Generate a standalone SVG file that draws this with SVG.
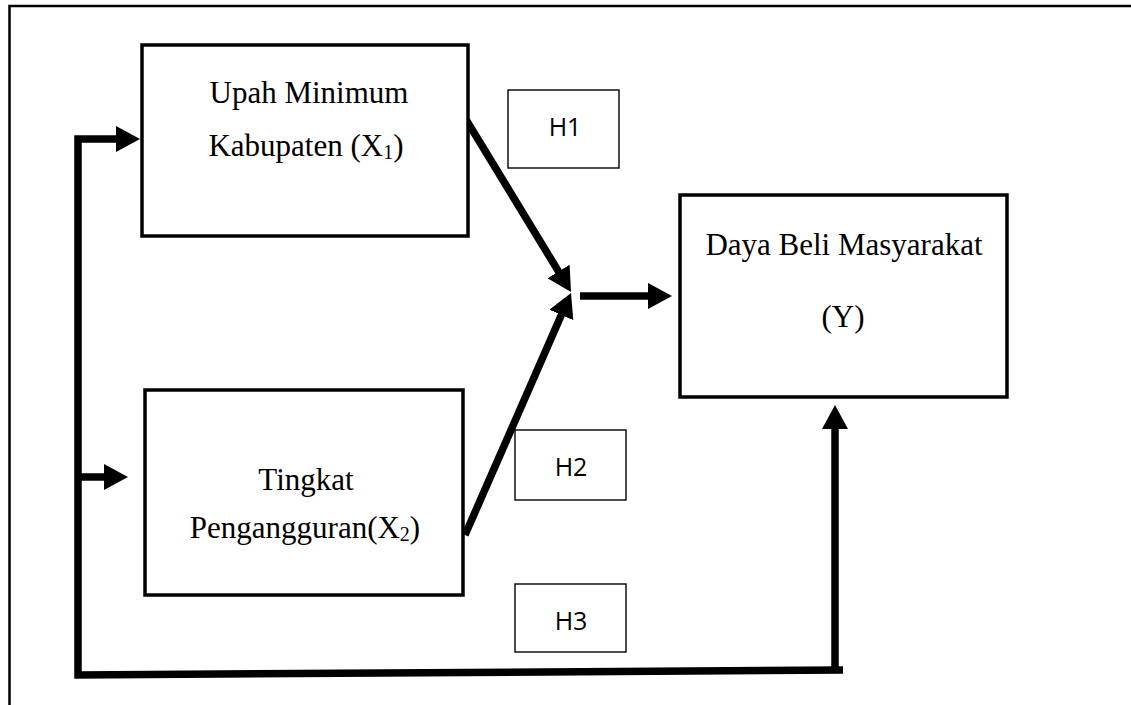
<svg xmlns="http://www.w3.org/2000/svg" width="1131" height="705" viewBox="0 0 1131 705">
<style>
  .box { fill: #fff; stroke: #000; stroke-width: 3.5; }
  .hbox { fill: #fff; stroke: #000; stroke-width: 1.4; }
  .serif { font-family: "Liberation Serif", "Times New Roman", serif; font-size: 31px; fill: #000; text-anchor: middle; }
  .sans { font-family: "Open Sans", "Liberation Sans", sans-serif; font-size: 25px; fill: #000; text-anchor: middle; }
  .conn { fill: none; stroke: #000; stroke-width: 7.5; stroke-linejoin: miter; }
</style>
<defs>
  <marker id="ah" viewBox="0 0 24 26" refX="4" refY="13" markerWidth="24" markerHeight="26" markerUnits="userSpaceOnUse" orient="auto">
    <path d="M0,0 L24,13 L0,26 Z" fill="#000"/>
  </marker>
</defs>
<rect width="1131" height="705" fill="#fff"/>
<path id="frame" d="M9.5,705 V6 H1131" fill="none" stroke="#000" stroke-width="2.5"/>

<g id="connectors">
  <path class="conn" d="M843,670 L78,675 L78,139 L120,139" marker-end="url(#ah)"/>
  <path class="conn" d="M78,477 H108" marker-end="url(#ah)"/>
  <path class="conn" d="M835,672 V425" marker-end="url(#ah)"/>
  <path class="conn" d="M462,113 L560.6,274.9" marker-end="url(#ah)"/>
  <path class="conn" d="M465,535 L563,311.3" marker-end="url(#ah)"/>
  <path class="conn" d="M580,296 H652" marker-end="url(#ah)"/>
</g>

<g id="node-x1">
  <rect class="box" x="142" y="45" width="326" height="191"/>
  <text class="serif" x="309" y="103">Upah Minimum</text>
  <text class="serif" x="306" y="156">Kabupaten (X<tspan font-size="20" dy="3">1</tspan><tspan dy="-3">)</tspan></text>
</g>

<g id="node-x2">
  <rect class="box" x="145" y="390" width="318" height="205"/>
  <text class="serif" x="306" y="490">Tingkat</text>
  <text class="serif" x="305" y="538">Pengangguran(X<tspan font-size="20" dy="3">2</tspan><tspan dy="-3">)</tspan></text>
</g>

<g id="node-y">
  <rect class="box" x="680" y="195" width="327" height="202"/>
  <text class="serif" x="844" y="255">Daya Beli Masyarakat</text>
  <text class="serif" x="843" y="327">(Y)</text>
</g>

<g id="label-h1">
  <rect class="hbox" x="508" y="90" width="111" height="78"/>
  <text class="sans" x="565" y="136">H1</text>
</g>
<g id="label-h2">
  <rect class="hbox" x="515" y="430" width="111" height="70"/>
  <text class="sans" x="571" y="476">H2</text>
</g>
<g id="label-h3">
  <rect class="hbox" x="515" y="584" width="111" height="68"/>
  <text class="sans" x="571" y="630">H3</text>
</g>
</svg>
